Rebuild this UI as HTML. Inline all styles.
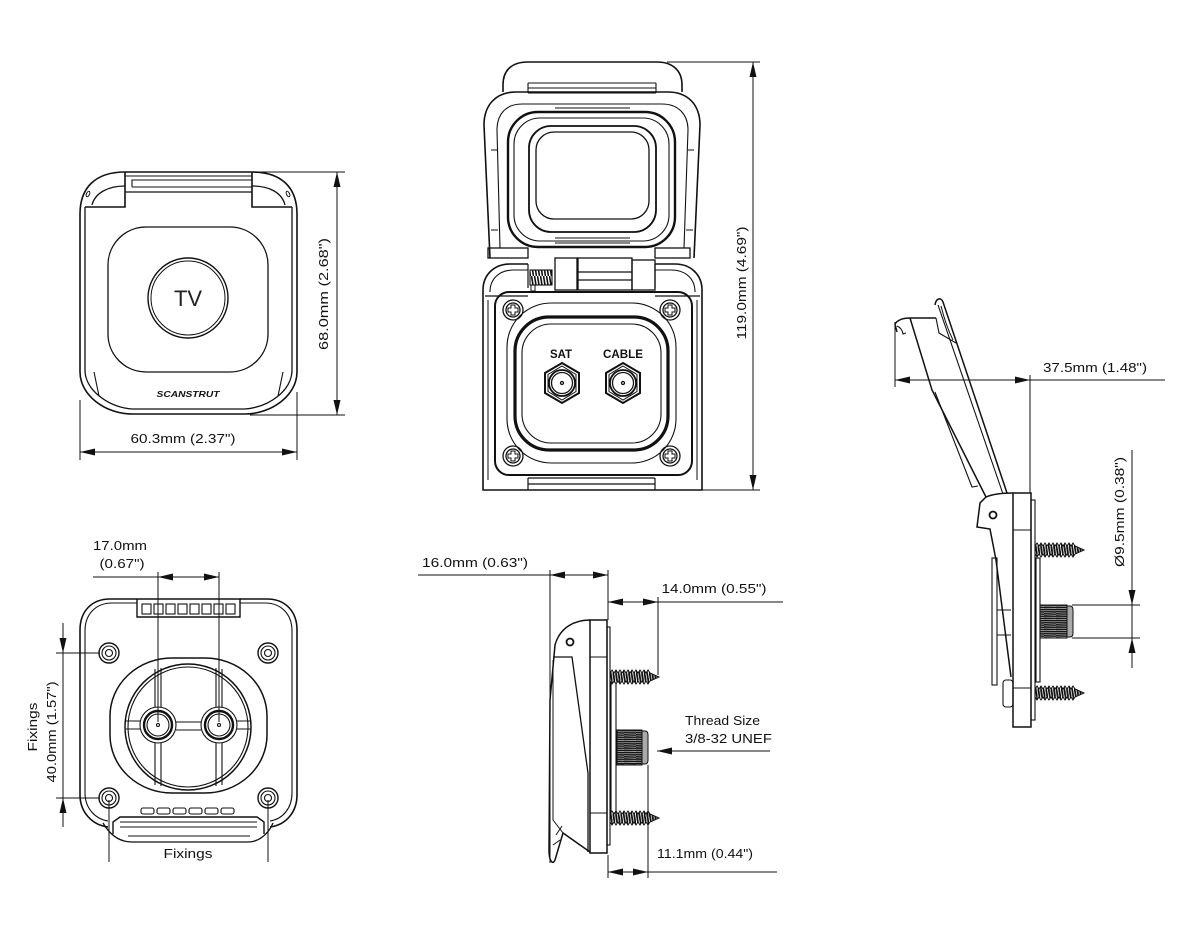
<!DOCTYPE html>
<html><head><meta charset="utf-8"><style>
html,body{margin:0;padding:0;background:#fff;}
svg{display:block;}
text{font-family:"Liberation Sans",sans-serif;font-size:13px;fill:#111;}
</style></head><body>
<svg width="1200" height="950" viewBox="0 0 1200 950" xmlns="http://www.w3.org/2000/svg">
<defs>
<pattern id="thr" width="3" height="12" patternUnits="userSpaceOnUse"><rect width="3" height="12" fill="#fff"/><line x1="0.5" y1="0" x2="2.5" y2="12" stroke="#111" stroke-width="1.6"/></pattern>
<pattern id="thr2" width="2.6" height="16" patternUnits="userSpaceOnUse" x="0" y="-8"><rect width="2.6" height="16" fill="#fff"/><line x1="0" y1="0" x2="2.6" y2="16" stroke="#111" stroke-width="1.8"/></pattern>
<pattern id="thv" width="12" height="2.2" patternUnits="userSpaceOnUse"><rect width="12" height="2.2" fill="#151515"/><line x1="0" y1="1.1" x2="12" y2="1.5" stroke="#fff" stroke-width="0.5"/></pattern>
<path id="screw" d="M0,-4 L2,-7 L4,-4 L6,-7 L8,-4 L10,-7 L12,-4 L14,-7 L16,-4 L18,-7 L20,-4 L22,-7 L24,-4 L26,-7 L28,-4 L30,-7 L32,-4 L34,-7 L36,-4 L38,-7 L40,-4 L49,0 L40,4 L38,7 L36,4 L34,7 L32,4 L30,7 L28,4 L26,7 L24,4 L22,7 L20,4 L18,7 L16,4 L14,7 L12,4 L10,7 L8,4 L6,7 L4,4 L2,7 L0,4 Z" fill="url(#thr2)" stroke="#111" stroke-width="1"/>
</defs>
<rect width="1200" height="950" fill="#fff"/>

<!-- ============ VIEW 1 : closed front ============ -->
<g fill="none" stroke="#111" stroke-width="1.6">
<path d="M125,172 L252,172 C282,172 297,188 297,214 L297,372 C297,395 272,414 245,414 L132,414 C105,414 80,395 80,372 L80,214 C80,188 95,172 125,172 Z"/>
<path d="M85,207 L85,370 C85,390 108,407 132,409 L245,409 C270,407 292,390 292,370 L292,207" stroke-width="1.3"/>
<path d="M125,172 L125,207 L85,207 M252,172 L252,207 L292,207"/>
<path d="M92,205 C95,193 108,186 125,186 M285,205 C282,193 270,186 252,186" stroke-width="1.3"/>
<path d="M125,176 L252,176 M132,187 L132,180 L252,180 M132,187 L252,187" stroke-width="1.1"/>
<path d="M125,192 L252,192" stroke-width="1.3"/>
<ellipse cx="88" cy="194" rx="1.5" ry="3" transform="rotate(25 88 194)" stroke-width="1"/>
<ellipse cx="288" cy="194" rx="1.5" ry="3" transform="rotate(-25 288 194)" stroke-width="1"/>
<path d="M94,372 L99,396 M283,372 L278,396" stroke-width="1.1"/>
<rect x="108" y="227" width="160" height="145" rx="38" stroke-width="1.3"/>
<circle cx="188" cy="298" r="40" stroke-width="1.4"/>
<circle cx="188" cy="298" r="37" stroke-width="1"/>
</g>
<text x="188" y="306" text-anchor="middle" style="font-size:22px;fill:#222">TV</text>
<text x="188" y="397" text-anchor="middle" textLength="63" lengthAdjust="spacingAndGlyphs" style="font-size:8px;font-weight:bold;font-style:italic">SCANSTRUT</text>
<g stroke="#111" stroke-width="1" fill="none">
<path d="M80,452 L297,452 M80,400 L80,460 M297,392 L297,460"/>
<path d="M337,172 L337,415 M252,172 L345,172 M250,415 L345,415"/>
</g>
<g fill="#111">
<polygon points="80,452 95,448.5 95,455.5"/><polygon points="297,452 282,448.5 282,455.5"/>
<polygon points="337,172 333.5,187 340.5,187"/><polygon points="337,415 333.5,400 340.5,400"/>
</g>
<text x="183" y="443" text-anchor="middle" textLength="105" lengthAdjust="spacingAndGlyphs">60.3mm (2.37")</text>
<text transform="translate(328,294) rotate(-90)" text-anchor="middle" textLength="112" lengthAdjust="spacingAndGlyphs">68.0mm  (2.68")</text>

<!-- ============ VIEW 2 : open front ============ -->
<g fill="none" stroke="#111" stroke-width="1.6">
<path d="M503,92 L503,85 C503,70 512,62 528,62 L657,62 C672,62 682,70 682,85 L682,92"/>
<path d="M528,83 L656,83 M528,88 L656,88 M528,93 L656,93 M528,83 L528,93 M656,83 L656,93" stroke-width="1.1"/>
<path d="M490,258 L484,125 C484,105 496,92 516,92 L668,92 C688,92 700,105 700,125 L694,258"/>
<path d="M500,248 L497,130 C497,114 506,104 522,104 L662,104 C678,104 688,114 688,130 L684,248" stroke-width="1.1"/>
<path d="M491,150 L497,150 M688,150 L694,150 M491,230 L498,230 M686,230 L693,230" stroke-width="1"/>
<rect x="488" y="248" width="40" height="10" stroke-width="1.3"/>
<rect x="655" y="248" width="35" height="10" stroke-width="1.3"/>
<rect x="508" y="112" width="167" height="135" rx="30" stroke-width="2.4"/>
<rect x="514" y="118" width="155" height="123" rx="26" stroke-width="1.1"/>
<rect x="529" y="126" width="127" height="106" rx="22" stroke-width="1.8"/>
<rect x="536" y="132" width="113" height="87" rx="18" stroke-width="1.3"/>
<path d="M555,238 L630,238 M555,243 L630,243 M555,108 L630,108" stroke-width="1"/>
<rect x="530" y="270" width="22" height="15" fill="url(#thr)" stroke-width="1.1"/>
<rect x="531" y="285" width="4" height="6" stroke-width="1"/>
<rect x="555" y="258" width="22" height="32" stroke-width="1.3"/>
<rect x="578" y="258" width="54" height="32" stroke-width="1.3"/>
<path d="M578,272 L632,272 M578,280 L632,280" stroke-width="1.3"/>
<rect x="632" y="260" width="23" height="30" stroke-width="1.3"/>
<path d="M528,264 L510,264 C494,264 483,275 483,290 L483,490 L702,490 L702,290 C702,275 691,264 675,264 L655,264"/>
<path d="M528,270 L514,270 C499,270 490,279 490,292 M655,270 L671,270 C686,270 695,279 695,292" stroke-width="1.1"/>
<path d="M528,264 L528,288 M655,264 L655,288 M485,296 L528,296 M655,296 L700,296" stroke-width="1.2"/>
<path d="M488,300 L488,480 M697,300 L697,480" stroke-width="1"/>
<rect x="495" y="292" width="197" height="183" rx="14" stroke-width="2"/>
<rect x="507" y="303" width="169" height="160" rx="44" stroke-width="1.1"/>
<rect x="515" y="317" width="153" height="133" rx="34" stroke-width="3.2"/>
<rect x="522" y="324" width="139" height="119" rx="29" stroke-width="1.1"/>
<path d="M528,478 L528,490 M655,478 L655,490 M528,478 L655,478 M528,484 L655,484" stroke-width="1.2"/>
</g>
<g fill="none" stroke="#111" stroke-width="1.3">
<circle cx="513" cy="310" r="10"/><circle cx="513" cy="310" r="7"/>
<circle cx="670" cy="310" r="10"/><circle cx="670" cy="310" r="7"/>
<circle cx="513" cy="456" r="10"/><circle cx="513" cy="456" r="7"/>
<circle cx="670" cy="456" r="10"/><circle cx="670" cy="456" r="7"/>
<path d="M511,305 h4 v3 h3 v4 h-3 v3 h-4 v-3 h-3 v-4 h3 z M668,305 h4 v3 h3 v4 h-3 v3 h-4 v-3 h-3 v-4 h3 z M511,451 h4 v3 h3 v4 h-3 v3 h-4 v-3 h-3 v-4 h3 z M668,451 h4 v3 h3 v4 h-3 v3 h-4 v-3 h-3 v-4 h3 z" stroke-width="1"/>
<polygon points="562,363 579,373 579,393 562,403 545,393 545,373" stroke-width="2"/>
<polygon points="562,366 576,374.5 576,391.5 562,400 548,391.5 548,374.5" stroke-width="1"/>
<circle cx="562" cy="383" r="13" stroke-width="1.8"/><circle cx="562" cy="383" r="10.5"/><circle cx="562" cy="383" r="1.5"/>
<polygon points="623,363 640,373 640,393 623,403 606,393 606,373" stroke-width="2"/>
<polygon points="623,366 637,374.5 637,391.5 623,400 609,391.5 609,374.5" stroke-width="1"/>
<circle cx="623" cy="383" r="13" stroke-width="1.8"/><circle cx="623" cy="383" r="10.5"/><circle cx="623" cy="383" r="1.5"/>
</g>
<text x="561" y="358" text-anchor="middle" textLength="22" lengthAdjust="spacingAndGlyphs" style="font-size:12px;font-weight:bold">SAT</text>
<text x="623" y="358" text-anchor="middle" textLength="40" lengthAdjust="spacingAndGlyphs" style="font-size:12px;font-weight:bold">CABLE</text>
<g stroke="#111" stroke-width="1" fill="none">
<path d="M753,62 L753,490 M667,62 L760,62 M660,490 L760,490"/>
</g>
<g fill="#111">
<polygon points="753,62 749.5,77 756.5,77"/><polygon points="753,490 749.5,475 756.5,475"/>
</g>
<text transform="translate(746,283) rotate(-90)" text-anchor="middle" textLength="113" lengthAdjust="spacingAndGlyphs">119.0mm (4.69")</text>

<!-- ============ VIEW 3 : open side ============ -->
<g fill="none" stroke="#111" stroke-width="1.5">
<path d="M897,332 L895,324 Q899,318 910,318 L936,318"/>
<path d="M897,326 Q902,328 903,334 L906,333" stroke-width="1.1"/>
<path d="M910,318 L932,390 L986,497"/>
<path d="M935,392 L972,487 L978,486" stroke-width="1.1"/>
<path d="M935,305 C936,298 941,297 943,302 L1007,493"/>
<path d="M938,305 L1003,494" stroke-width="1.1"/>
<path d="M936,318 L939,333 L956,343" stroke-width="1.1"/>
<path d="M941,306 C944,318 948,330 953,340" stroke-width="1"/>
<path d="M986,497 C993,494 1004,493 1013,493"/>
<path d="M986,497 L980,503 L977,527 L990,529 L996,560 L1011,677"/>
<circle cx="993" cy="515" r="3.5" stroke-width="1.8"/>
<rect x="992" y="558" width="5" height="127" stroke-width="1.1"/>
<path d="M997,610 L1011,610 M997,635 L1011,635" stroke-width="1"/>
<rect x="1003" y="680" width="10" height="27" rx="3" stroke-width="1.1"/>
<rect x="1013" y="493" width="18" height="234"/>
<path d="M1013,530 L1031,530 M1013,688 L1031,688" stroke-width="1.1"/>
<rect x="1031" y="500" width="4" height="220" stroke-width="1.1"/>
<rect x="1036" y="558" width="4" height="124" stroke-width="1.1"/>
</g>
<use href="#screw" transform="translate(1035,550)"/>
<use href="#screw" transform="translate(1035,693)"/>
<rect x="1040" y="605" width="27" height="33" fill="url(#thv)" stroke="#111" stroke-width="1"/>
<path d="M1067,606 L1070,606 Q1073,606 1073,610 L1073,633 Q1073,637 1070,637 L1067,637 Z" fill="#aaa" stroke="#111" stroke-width="1"/>
<g stroke="#111" stroke-width="1" fill="none">
<path d="M895,380 L1165,380 M895,322 L895,387 M1030,375 L1030,493"/>
<path d="M1132,450 L1132,668 M1072,605 L1140,605 M1072,638 L1140,638"/>
</g>
<g fill="#111">
<polygon points="895,380 910,376.5 910,383.5"/><polygon points="1030,380 1015,376.5 1015,383.5"/>
<polygon points="1132,605 1128.5,590 1135.5,590"/><polygon points="1132,638 1128.5,653 1135.5,653"/>
</g>
<text x="1095" y="372" text-anchor="middle" textLength="104" lengthAdjust="spacingAndGlyphs">37.5mm (1.48")</text>
<text transform="translate(1124,512) rotate(-90)" text-anchor="middle" textLength="110" lengthAdjust="spacingAndGlyphs">Ø9.5mm (0.38")</text>

<!-- ============ VIEW 4 : back ============ -->
<g fill="none" stroke="#111" stroke-width="1.6">
<path d="M137,599 L110,599 C92,599 80,611 80,630 L80,795 C80,812 92,825 108,827 M270,827 C286,825 297,812 297,795 L297,630 C297,611 285,599 267,599 L240,599"/>
<path d="M137,603 L112,603 C96,603 85,614 85,631 L85,793 C85,808 95,819 108,821 M270,821 C283,819 292,808 292,793 L292,631 C292,614 281,603 265,603 L240,603" stroke-width="1.1"/>
<path d="M137,599 L137,617 L240,617 L240,599 L137,599" stroke-width="1.4"/>
<path d="M103,823 C110,835 120,842 132,842 L248,842 C258,842 268,835 273,823" stroke-width="1.3"/>
<path d="M128,836 L250,836" stroke-width="1.1"/>
<path d="M113,834 L113,822 L120,817 L257,817 L264,822 L264,834" stroke-width="1.4"/>
<path d="M120,822 L257,822 M120,827 L257,827" stroke-width="1"/>
</g>
<g fill="none" stroke="#111" stroke-width="1.1">
<rect x="142" y="604" width="9" height="10"/><rect x="154" y="604" width="9" height="10"/><rect x="166" y="604" width="9" height="10"/><rect x="178" y="604" width="9" height="10"/><rect x="190" y="604" width="9" height="10"/><rect x="202" y="604" width="9" height="10"/><rect x="214" y="604" width="9" height="10"/><rect x="226" y="604" width="9" height="10"/>
<rect x="141" y="808" width="13" height="6" rx="2"/><rect x="157" y="808" width="13" height="6" rx="2"/><rect x="173" y="808" width="13" height="6" rx="2"/><rect x="189" y="808" width="13" height="6" rx="2"/><rect x="205" y="808" width="13" height="6" rx="2"/><rect x="221" y="808" width="13" height="6" rx="2"/>
<circle cx="109" cy="653" r="10" stroke-width="1.4"/><circle cx="109" cy="653" r="7"/><circle cx="109" cy="653" r="3.5"/>
<circle cx="268" cy="653" r="10" stroke-width="1.4"/><circle cx="268" cy="653" r="7"/><circle cx="268" cy="653" r="3.5"/>
<circle cx="109" cy="798" r="10" stroke-width="1.4"/><circle cx="109" cy="798" r="7"/><circle cx="109" cy="798" r="3.5"/>
<circle cx="268" cy="798" r="10" stroke-width="1.4"/><circle cx="268" cy="798" r="7"/><circle cx="268" cy="798" r="3.5"/>
<rect x="110" y="658" width="157" height="135" rx="62" ry="58" stroke-width="1.5"/>
<circle cx="188" cy="727" r="63" stroke-width="1.5"/>
<circle cx="188" cy="727" r="60"/>
<path d="M155,669 L155,707 M161,668 L161,707 M216,668 L216,707 M222,669 L222,707"/>
<path d="M155,743 L155,785 M161,743 L161,786 M216,743 L216,786 M222,743 L222,785"/>
<path d="M126,721 L140,721 M126,729 L140,729 M237,721 L251,721 M237,729 L251,729 M176,722 L201,722 M176,730 L201,730"/>
<circle cx="158" cy="725" r="18"/><circle cx="158" cy="725" r="14" stroke-width="2.4"/><circle cx="158" cy="725" r="11"/><circle cx="158" cy="725" r="1.5"/>
<circle cx="219" cy="725" r="18"/><circle cx="219" cy="725" r="14" stroke-width="2.4"/><circle cx="219" cy="725" r="11"/><circle cx="219" cy="725" r="1.5"/>
</g>
<g stroke="#111" stroke-width="1" fill="none">
<path d="M93,577 L219,577 M158,572 L158,722 M219,572 L219,722"/>
<path d="M63,623 L63,827 M56,653 L100,653 M56,798 L100,798"/>
<path d="M109,800 L109,862 M268,800 L268,862"/>
</g>
<g fill="#111">
<polygon points="158,577 173,573.5 173,580.5"/><polygon points="219,577 204,573.5 204,580.5"/>
<polygon points="63,653 59.5,638 66.5,638"/><polygon points="63,798 59.5,813 66.5,813"/>
</g>
<text x="120" y="550" text-anchor="middle" textLength="54" lengthAdjust="spacingAndGlyphs">17.0mm</text>
<text x="122" y="568" text-anchor="middle" textLength="45" lengthAdjust="spacingAndGlyphs">(0.67")</text>
<text transform="translate(37,727) rotate(-90)" text-anchor="middle" textLength="49" lengthAdjust="spacingAndGlyphs">Fixings</text>
<text transform="translate(56,732) rotate(-90)" text-anchor="middle" textLength="101" lengthAdjust="spacingAndGlyphs">40.0mm (1.57")</text>
<text x="188" y="858" text-anchor="middle" textLength="49" lengthAdjust="spacingAndGlyphs">Fixings</text>

<!-- ============ VIEW 5 : closed side ============ -->
<g fill="none" stroke="#111" stroke-width="1.5">
<path d="M590,620 C575,620 560,627 555,645 L550,700 L549,850 C549,862 553,865 555,860 L563,833 L590,852"/>
<path d="M553,657 L572,657 L588,773 L588,852" stroke-width="1.3"/>
<path d="M553,660 L553,820 L563,833" stroke-width="1"/>
<path d="M556,835 L562,826 M553,845 L560,840" stroke-width="1"/>
<circle cx="570" cy="642" r="3.5" stroke-width="1.8"/>
<rect x="590" y="620" width="17" height="233"/>
<path d="M590,657 L607,657 M590,813 L607,813" stroke-width="1.1"/>
<rect x="607" y="627" width="3" height="218" stroke-width="1.1"/>
<rect x="611" y="682" width="5" height="131" stroke-width="1.1"/>
</g>
<use href="#screw" transform="translate(610,677)"/>
<use href="#screw" transform="translate(610,818)"/>
<rect x="617" y="730" width="25" height="35" fill="url(#thv)" stroke="#111" stroke-width="1"/>
<path d="M642,731 L645,731 Q648,731 648,735 L648,760 Q648,764 645,764 L642,764 Z" fill="#aaa" stroke="#111" stroke-width="1"/>
<g stroke="#111" stroke-width="1" fill="none">
<path d="M418,575 L608,575 M550,570 L550,863 M608,570 L608,620"/>
<path d="M608,602 L783,602 M658,597 L658,675"/>
<path d="M657,751 L770,751"/>
<path d="M608,872 L777,872 M648,765 L648,878 M608,855 L608,878"/>
</g>
<g fill="#111">
<polygon points="550,575 565,571.5 565,578.5"/><polygon points="608,575 593,571.5 593,578.5"/>
<polygon points="608,602 623,598.5 623,605.5"/><polygon points="658,602 643,598.5 643,605.5"/>
<polygon points="657,751 672,747.5 672,754.5"/>
<polygon points="608,872 623,868.5 623,875.5"/><polygon points="648,872 633,868.5 633,875.5"/>
</g>
<text x="475" y="567" text-anchor="middle" textLength="106" lengthAdjust="spacingAndGlyphs">16.0mm (0.63")</text>
<text x="714" y="593" text-anchor="middle" textLength="105" lengthAdjust="spacingAndGlyphs">14.0mm (0.55")</text>
<text x="685" y="725" textLength="75" lengthAdjust="spacingAndGlyphs">Thread Size</text>
<text x="685" y="743" textLength="87" lengthAdjust="spacingAndGlyphs">3/8-32 UNEF</text>
<text x="705" y="858" text-anchor="middle" textLength="96" lengthAdjust="spacingAndGlyphs">11.1mm (0.44")</text>
</svg>
</body></html>
